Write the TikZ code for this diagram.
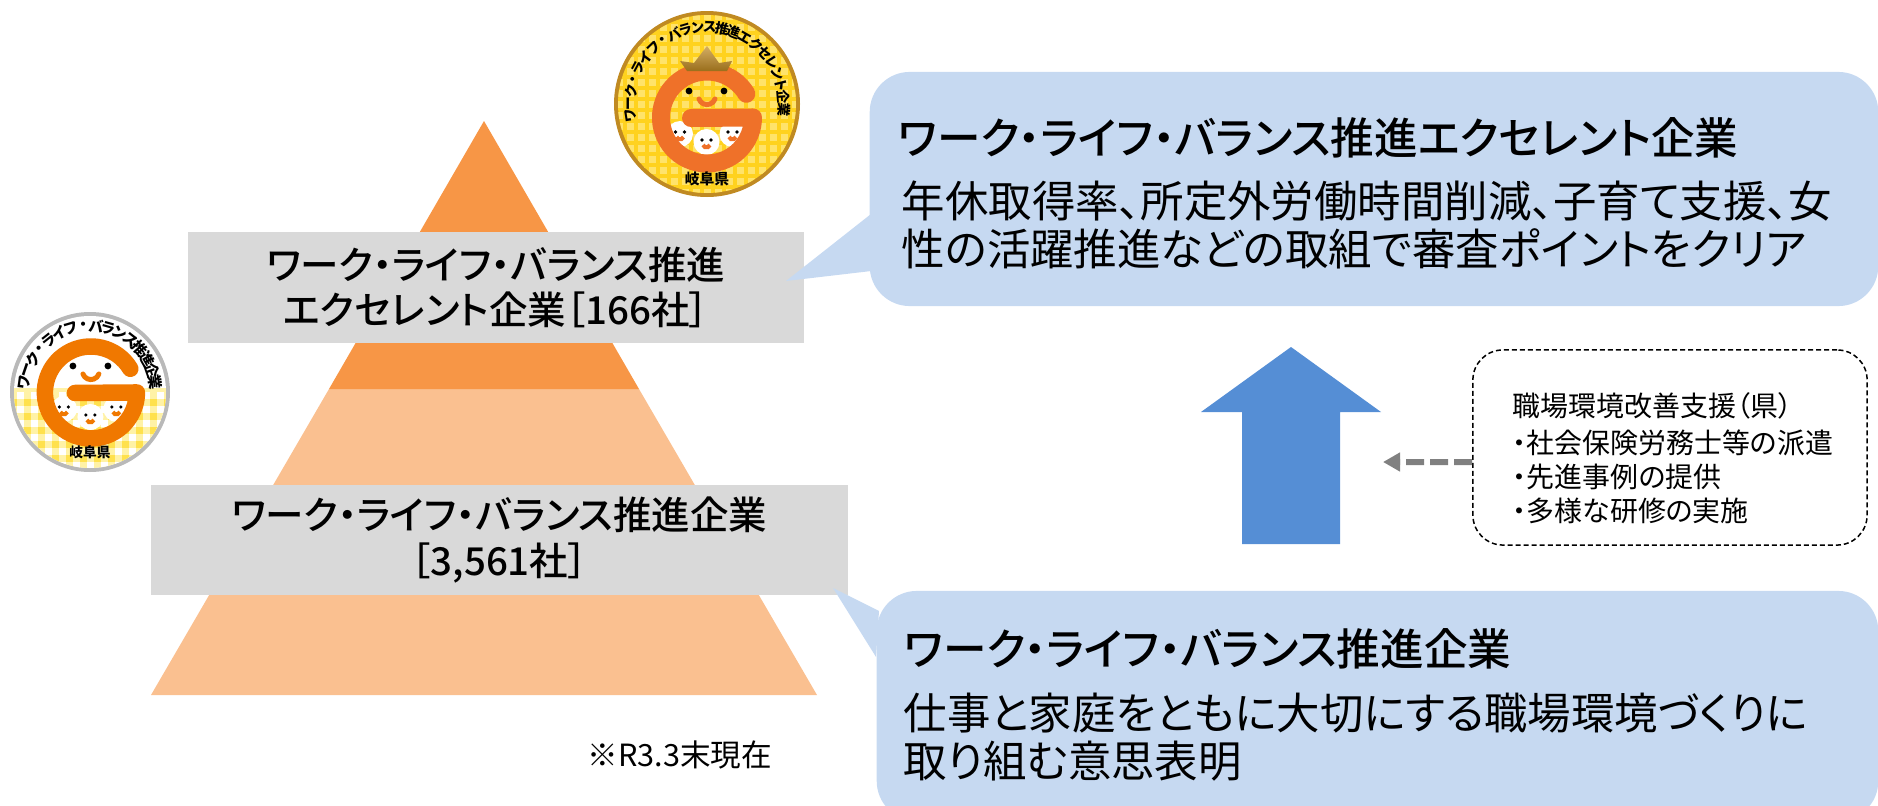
\documentclass[tikz,border=0pt]{standalone}
\usepackage{fontspec}
\usetikzlibrary{arrows.meta}
\newfontfamily\jpbody[RawFeature=+palt]{Noto Sans CJK JP}
\newfontfamily\jphead[RawFeature=+palt]{Noto Sans CJK JP Medium}

\definecolor{pyrdark}{HTML}{F79646}
\definecolor{pyrlight}{HTML}{FAC090}
\definecolor{labelgray}{HTML}{D9D9D9}
\definecolor{boxblue}{HTML}{C6D9F1}
\definecolor{liftblue}{HTML}{558ED5}
\definecolor{gorange}{HTML}{EF7129}
\definecolor{stdorange}{HTML}{F07800}
\definecolor{goldring}{HTML}{C08A22}
\definecolor{gyellow}{HTML}{FFD21F}
\definecolor{gpale}{HTML}{FFE36B}
\definecolor{stdyellow}{HTML}{FFE14D}
\definecolor{stdpale}{HTML}{FFF2A6}

\tikzset{
  graylabel/.style={fill=labelgray,minimum width=#1,minimum height=1.10cm,inner sep=0pt,align=center,
    font=\jphead\fontsize{10.95}{13}\selectfont},
  bluebox/.style={fill=boxblue,rounded corners=0.40cm,inner sep=0pt},
  headtext/.style={anchor=west,inner sep=0pt,font=\jphead\fontsize{12.4}{13}\selectfont},
  bodytext/.style={anchor=west,inner sep=0pt,align=left,font=\jpbody\fontsize{12.35}{13.7}\selectfont},
  sidebox/.style={draw,line width=0.015cm,dash pattern=on 0.05cm off 0.03cm,fill=white,rounded corners=0.3cm,inner sep=0pt},
  sidetext/.style={anchor=west,inner sep=0pt,align=left,font=\jpbody\fontsize{7.95}{9.7}\selectfont},
  sidearrow/.style={draw=gray,line width=0.06cm,dash pattern=on 0.18cm off 0.06cm,-{Triangle[length=0.17cm,width=0.18cm]}},
  ringtext/.style={inner sep=0pt,font=\jpbody\bfseries\fontsize{3.9}{4}\selectfont},
  pics/gmark/.style 2 args={code={
    \foreach \cx/\cy in {-27/-30,-0.5/-38,25.5/-30}{
      \fill[white] (\cx,\cy) circle (13);
      \fill (\cx-4.5,\cy+2) circle (1.8);
      \fill (\cx+4.5,\cy+2) circle (1.8);
      \draw[#1,line width=0.04cm] (\cx-3.5,\cy-3) arc (200:340:3.7);
    }
    \draw[#1,line width=#2,line cap=round,line join=round]
      (39.4,10.2) arc (31:360:46) -- (-16,-14);
    \fill (-18,13) circle (3.4);
    \fill (17,13) circle (3.4);
    \draw[#1,line width=0.05cm,line cap=round] (-8,5) arc (200:340:8.5);
  }},
}

\begin{document}
\begin{tikzpicture}[x=0.01cm,y=0.01cm]
\path[use as bounding box,clip] (0,0) rectangle (1878,-806);

% pyramid
\fill[pyrlight] (329,-389) -- (639,-389) -- (817,-695) -- (151,-695) -- cycle;
\fill[pyrdark] (484,-121) -- (639,-389) -- (329,-389) -- cycle;

\node[graylabel=6.16cm] (excellentlabel) at (496,-287.5) {ワーク・ライフ・バランス推進\\エクセレント企業［166社］};
\node[graylabel=6.97cm] (standardlabel) at (499.5,-540) {ワーク・ライフ・バランス推進企業\\［3,561社］};
\node[inner sep=0pt,anchor=west,font=\jpbody\fontsize{8.7}{10}\selectfont] (asof) at (587,-755) {※R3.3末現在};

% callouts
\node[bluebox,minimum width=10.08cm,minimum height=2.34cm] (excellentbox) at (1374,-189) {};
\node[bluebox,minimum width=10.01cm,minimum height=2.30cm] (standardbox) at (1377.5,-706) {};
\coordinate (excellenttip) at (786,-281);
\coordinate (standardtip) at (833,-588);
\fill[boxblue] ([yshift=-0.25cm,xshift=0.02cm]excellentbox.west) -- (excellenttip) -- ([yshift=-0.82cm,xshift=0.02cm]excellentbox.west) -- cycle;
\fill[boxblue] ([yshift=0.95cm,xshift=0.03cm]standardbox.west) -- (standardtip) -- ([yshift=0.49cm]standardbox.west) -- cycle;

\node[headtext] (excellenthead) at (898,-138) {ワーク・ライフ・バランス推進エクセレント企業};
\node[bodytext] (excellentbody) at (901,-225) {年休取得率、所定外労働時間削減、子育て支援、女\\性の活躍推進などの取組で審査ポイントをクリア};
\node[headtext] (standardhead) at (904,-649) {ワーク・ライフ・バランス推進企業};
\node[bodytext] (standardbody) at (903,-737) {仕事と家庭をともに大切にする職場環境づくりに\\取り組む意思表明};

% lift arrow and support box
\fill[liftblue] (1291,-347) -- (1381,-412) -- (1340,-412) -- (1340,-544) -- (1242,-544) -- (1242,-412) -- (1201,-412) -- cycle;
\node[sidebox,minimum width=3.94cm,minimum height=1.95cm] (supportbox) at (1670,-447.5) {};
\node[sidetext] (supporttext) at (1512,-458) {職場環境改善支援（県）\\[0.03cm]・社会保険労務士等の派遣\\・先進事例の提供\\・多様な研修の実施};
\coordinate (supportend) at (1383,-462);
\draw[sidearrow] ([yshift=-0.145cm]supportbox.west) -- (supportend);

% excellent badge
\begin{scope}[shift={(707,-104)}]
\fill[goldring] (0,0) circle (93);
\begin{scope}
\clip (0,0) circle (89);
\fill[gyellow] (-90,-90) rectangle (90,90);
\foreach \gx in {-88,-77,...,88}{
  \foreach \gy in {-88,-77,...,88}{
    \fill[gpale] (\gx-3.5,\gy-3.5) rectangle (\gx+3.5,\gy+3.5);
  }
}
\end{scope}
\pic {gmark={gorange}{0.18cm}};
\shade[top color=goldring!70!white,bottom color=goldring!80!black] (-20,33) -- (-27,43) -- (-13,41) -- (0,58) -- (12,41) -- (25,43) -- (20,33) -- cycle;
\foreach \ch [count=\i] in {ワ,ー,ク,・,ラ,イ,フ,・,バ,ラ,ン,ス,推,進,エ,ク,セ,レ,ン,ト,企,業}{
  \pgfmathsetmacro\ang{189-(\i-1)*9.2}
  \node[ringtext,rotate=\ang-90] (excellentch\i) at (\ang:77) {\ch};
}
\node[ringtext,font=\jpbody\bfseries\fontsize{4.2}{5}\selectfont] (excellentpref) at (0,-75) {岐阜県};
\end{scope}

% standard badge
\begin{scope}[shift={(90,-392)}]
\fill[gray!55] (0,0) circle (80);
\fill[white] (0,0) circle (76);
\begin{scope}
\clip (0,0) circle (76);
\fill[stdpale] (-80,-80) rectangle (80,4);
\foreach \gx in {-77,-63,...,77}{
  \foreach \gy in {-80,-66,...,-10}{
    \fill[stdyellow] (\gx-3.5,\gy-3.5) rectangle (\gx+3.5,\gy+3.5);
    \fill[white] (\gx+3.5,\gy+3.5) rectangle (\gx+10.5,\gy+10.5);
  }
}
\end{scope}
\begin{scope}[scale=0.93,shift={(1,14)}]
\pic {gmark={stdorange}{0.165cm}};
\end{scope}
\foreach \ch [count=\i] in {ワ,ー,ク,・,ラ,イ,フ,・,バ,ラ,ン,ス,推,進,企,業}{
  \pgfmathsetmacro\ang{172-(\i-1)*10.9}
  \node[ringtext,rotate=\ang-90,font=\jpbody\bfseries\fontsize{4.2}{5}\selectfont] (standardch\i) at (\ang:66) {\ch};
}
\node[ringtext] (standardpref) at (0,-60) {岐阜県};
\end{scope}
\end{tikzpicture}
\end{document}
